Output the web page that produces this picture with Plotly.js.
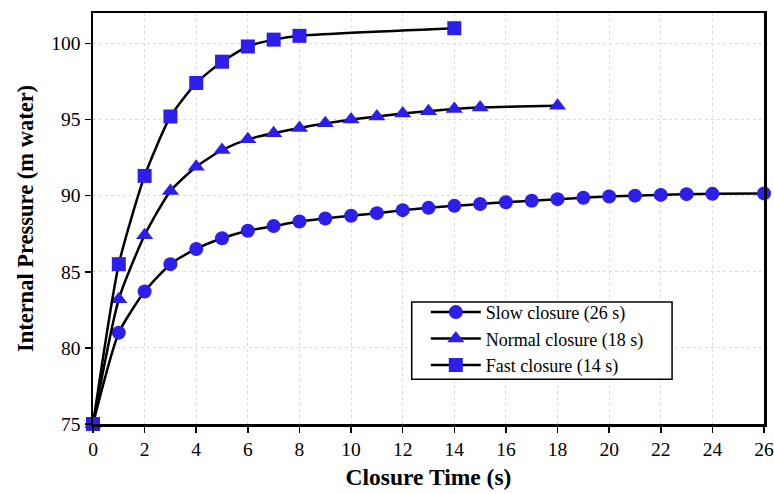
<!DOCTYPE html>
<html>
<head>
<meta charset="utf-8">
<script src="https://cdn.plot.ly/plotly-3.0.1.min.js"></script>
<style>html,body{margin:0;padding:0;background:#fff;}#chart{width:774px;height:494px;}</style>
</head>
<body>
<div id="chart"></div>
<script>
const seriesNames = ["Slow closure (26 s)", "Normal closure (18 s)", "Fast closure (14 s)"];
const slowX = [0,1,2,3,4,5,6,7,8,9,10,11,12,13,14,15,16,17,18,19,20,21,22,23,24,26];
const slowY = [75,81.0,83.7,85.5,86.5,87.2,87.7,88.0,88.3,88.5,88.68,88.85,89.05,89.2,89.33,89.45,89.57,89.67,89.77,89.86,89.95,90.0,90.05,90.1,90.12,90.15];
const normalX = [0,1,2,3,4,5,6,7,8,9,10,11,12,13,14,15,18];
const normalY = [75,83.2,87.4,90.3,91.9,93.0,93.7,94.1,94.45,94.75,95.0,95.2,95.4,95.55,95.7,95.8,95.9];
const fastX = [0,1,2,3,4,5,6,7,8,14];
const fastY = [75,85.5,91.3,95.2,97.4,98.8,99.8,100.25,100.5,101.0];

const markerColor = "#2b1fe9";
const font = "Liberation Serif, Times New Roman, serif";
function tr(name, x, y, symbol, size) {
  return {
    type: "scatter", mode: "lines+markers", name: name, x: x, y: y,
    line: {color: "#000", width: 2.5, shape: "spline", smoothing: 0.6},
    marker: {symbol: symbol, size: size, color: markerColor},
    cliponaxis: false
  };
}
const data = [
  tr(seriesNames[0], slowX, slowY, "circle", 14),
  tr(seriesNames[1], normalX, normalY, "triangle-up", 15),
  tr(seriesNames[2], fastX, fastY, "square", 14)
];
const layout = {
  width: 774, height: 494,
  margin: {l: 93, r: 10, t: 13, b: 70},
  paper_bgcolor: "#fff", plot_bgcolor: "#fff",
  font: {family: font, color: "#000", size: 19},
  showlegend: true,
  legend: {
    x: 0.496, y: 0.3165, xanchor: "left", yanchor: "top",
    borderwidth: 0, bgcolor: "rgba(0,0,0,0)",
    font: {family: font, size: 18, color: "#000"},
    itemwidth: 50, tracegroupgap: 0
  },
  shapes: [{
    type: "rect", xref: "paper", yref: "paper", layer: "above",
    x0: 0.475, x1: 0.863, y0: 0.109, y1: 0.297,
    line: {color: "#000", width: 1.5}, fillcolor: "#fff"
  }],
  xaxis: {
    range: [0, 26], dtick: 2, tick0: 0,
    showline: true, linecolor: "#000", linewidth: 2.5, mirror: true,
    ticks: "outside", ticklen: 6, tickwidth: 1.5, tickcolor: "#000",
    showgrid: true, gridcolor: "#dcdcdc", griddash: "3px,3px", gridwidth: 1,
    zeroline: false,
    tickfont: {family: font, size: 19.5},
    title: {text: "<b>Closure Time (s)</b>", font: {family: font, size: 23.5}, standoff: 10}
  },
  yaxis: {
    range: [75, 102], dtick: 5, tick0: 75,
    showline: true, linecolor: "#000", linewidth: 2.5, mirror: true,
    ticks: "outside", ticklen: 6, tickwidth: 1.5, tickcolor: "#000",
    showgrid: true, gridcolor: "#dcdcdc", griddash: "3px,3px", gridwidth: 1,
    zeroline: false,
    tickfont: {family: font, size: 19.5},
    title: {text: "<b>Internal Pressure (m water)</b>", font: {family: font, size: 22.5}, standoff: 12}
  }
};
Plotly.newPlot("chart", data, layout, {displayModeBar: false, staticPlot: true});
</script>
</body>
</html>
